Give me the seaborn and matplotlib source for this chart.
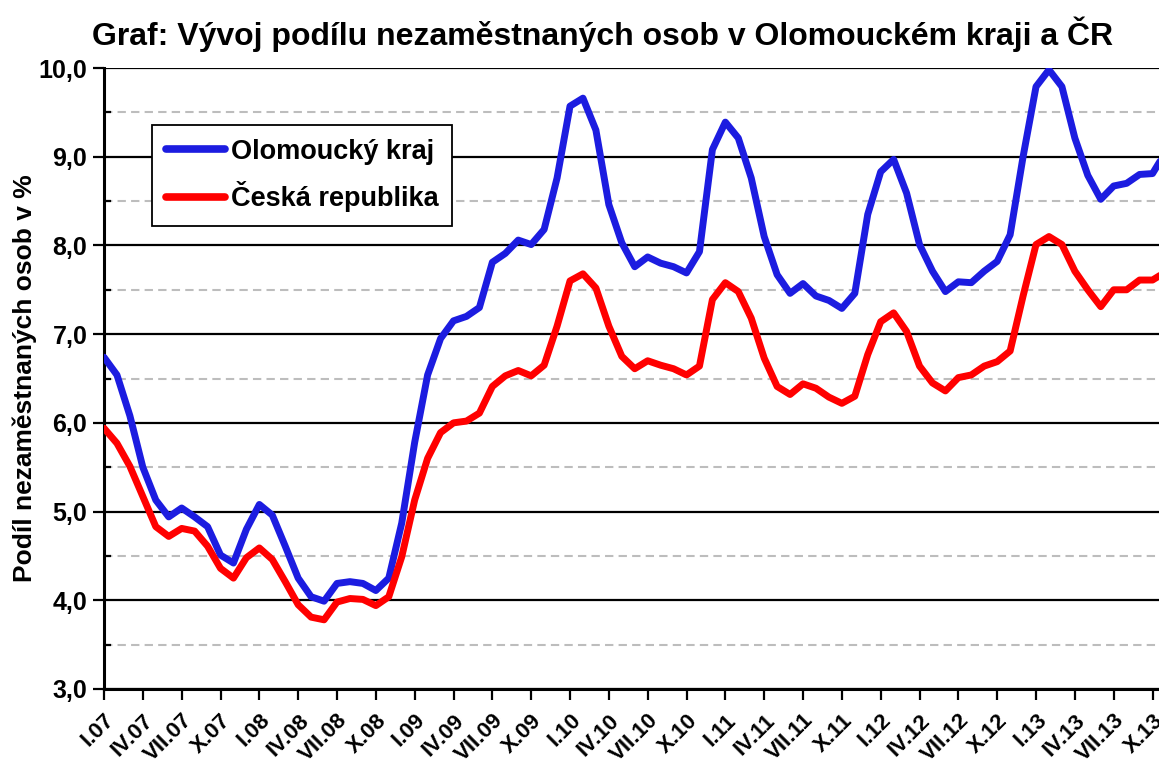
import numpy as np
import pandas as pd
import matplotlib
matplotlib.use("Agg")
import matplotlib.pyplot as plt
from matplotlib.ticker import MultipleLocator, FixedLocator
import seaborn as sns

# monthly shares of unemployed persons (%), I.07 .. XI.13
olomoucky = [6.74, 6.54, 6.08, 5.50, 5.13, 4.94, 5.04, 4.94, 4.83, 4.51, 4.42, 4.80,
             5.08, 4.96, 4.61, 4.25, 4.04, 3.99, 4.19, 4.21, 4.19, 4.11, 4.25, 4.87,
             5.78, 6.54, 6.95, 7.15, 7.20, 7.30, 7.81, 7.91, 8.06, 8.01, 8.18, 8.76,
             9.57, 9.66, 9.30, 8.46, 8.03, 7.76, 7.87, 7.80, 7.76, 7.69, 7.93, 9.08,
             9.39, 9.21, 8.76, 8.10, 7.67, 7.46, 7.57, 7.43, 7.38, 7.29, 7.46, 8.35,
             8.83, 8.97, 8.59, 8.01, 7.71, 7.48, 7.59, 7.58, 7.71, 7.82, 8.12, 9.00,
             9.79, 9.98, 9.79, 9.21, 8.79, 8.52, 8.67, 8.70, 8.80, 8.81, 9.05]
cr = [5.94, 5.77, 5.51, 5.17, 4.83, 4.72, 4.81, 4.78, 4.61, 4.36, 4.25, 4.48,
      4.59, 4.46, 4.21, 3.95, 3.81, 3.78, 3.98, 4.02, 4.01, 3.94, 4.04, 4.49,
      5.13, 5.60, 5.89, 6.00, 6.02, 6.11, 6.41, 6.53, 6.59, 6.53, 6.65, 7.09,
      7.60, 7.68, 7.52, 7.09, 6.75, 6.61, 6.70, 6.65, 6.61, 6.54, 6.64, 7.39,
      7.58, 7.48, 7.18, 6.73, 6.41, 6.32, 6.44, 6.39, 6.29, 6.22, 6.30, 6.77,
      7.14, 7.24, 7.03, 6.64, 6.45, 6.36, 6.51, 6.54, 6.64, 6.69, 6.81, 7.43,
      8.01, 8.10, 8.01, 7.71, 7.50, 7.31, 7.50, 7.50, 7.61, 7.61, 7.70]

tick_labels = ["I.07", "IV.07", "VII.07", "X.07", "I.08", "IV.08", "VII.08", "X.08",
               "I.09", "IV.09", "VII.09", "X.09", "I.10", "IV.10", "VII.10", "X.10",
               "I.11", "IV.11", "VII.11", "X.11", "I.12", "IV.12", "VII.12", "X.12",
               "I.13", "IV.13", "VII.13", "X.13"]

series_names = ["Olomoucký kraj", "Česká republika"]
series_colors = ["#1c1ce0", "#ff0000"]

month = np.arange(len(olomoucky))
df = pd.DataFrame({
    "mesic": np.concatenate([month, month]),
    "podil": olomoucky + cr,
    "oblast": [series_names[0]] * len(olomoucky) + [series_names[1]] * len(cr),
})

sns.set_theme(style="white")
plt.rcParams["font.family"] = ["Liberation Sans", "DejaVu Sans"]
plt.rcParams["font.weight"] = "bold"
plt.rcParams["text.color"] = "black"
plt.rcParams["axes.labelcolor"] = "black"
plt.rcParams["xtick.color"] = "black"
plt.rcParams["ytick.color"] = "black"

fig = plt.figure(figsize=(11.59, 7.67), dpi=100)
ax = fig.add_axes([104 / 1159, 1 - 689 / 767, 1 - 104 / 1159, (689 - 68) / 767])

sns.lineplot(data=df, x="mesic", y="podil", hue="oblast", palette=series_colors,
             linewidth=5, ax=ax, legend=True, zorder=3)

ax.set_xlim(0, 81.5)
ax.set_ylim(3, 10)

# y axis: major lines solid black, minor dashed grey
ax.yaxis.set_major_locator(MultipleLocator(1))
ax.yaxis.set_minor_locator(MultipleLocator(0.5))
ax.set_yticklabels([f"{v:.1f}".replace(".", ",") for v in ax.get_yticks()])
ax.grid(axis="y", which="major", color="black", linewidth=1.6, linestyle="-")
ax.grid(axis="y", which="minor", color="#bdbdbd", linewidth=1.5, linestyle=(0, (4, 2.5)))
ax.grid(axis="x", visible=False)

ax.xaxis.set_major_locator(FixedLocator(np.arange(0, 3 * len(tick_labels), 3)))
ax.set_xticklabels(tick_labels, rotation=45, ha="right", va="top",
                   rotation_mode="anchor", fontsize=16, fontweight="bold")
for lbl in ax.get_yticklabels():
    lbl.set_fontsize(18)
    lbl.set_fontweight("bold")

ax.tick_params(axis="y", which="major", direction="out", length=8, width=1.6,
               left=True, pad=4)
ax.tick_params(axis="y", which="minor", direction="in", length=5, width=1.6, left=True)
ax.tick_params(axis="x", which="major", direction="out", length=8, width=1.6,
               bottom=True, pad=7)

for side in ["top", "right"]:
    ax.spines[side].set_visible(False)
for side in ["left", "bottom"]:
    ax.spines[side].set_color("black")
    ax.spines[side].set_linewidth(2.2)

ax.set_xlabel("")
ax.set_ylabel("Podíl nezaměstnaných osob v %", fontsize=19, fontweight="bold",
              labelpad=1)

leg = ax.legend(loc="upper left", bbox_to_anchor=(0.0455, 0.908), fontsize=19.5,
                frameon=True, fancybox=False, edgecolor="black", framealpha=1,
                handlelength=2.2, handletextpad=0.2, labelspacing=0.62,
                borderpad=0.5, borderaxespad=0)
leg.get_frame().set_linewidth(1.3)
for txt in leg.get_texts():
    txt.set_fontweight("bold")
for h in leg.get_lines():
    h.set_linewidth(5.5)

fig.text(0.52, 0.955, "Graf: Vývoj podílu nezaměstnaných osob v Olomouckém kraji a ČR",
         ha="center", va="center", fontsize=23, fontweight="bold")

fig.savefig("out.png", dpi=100)
